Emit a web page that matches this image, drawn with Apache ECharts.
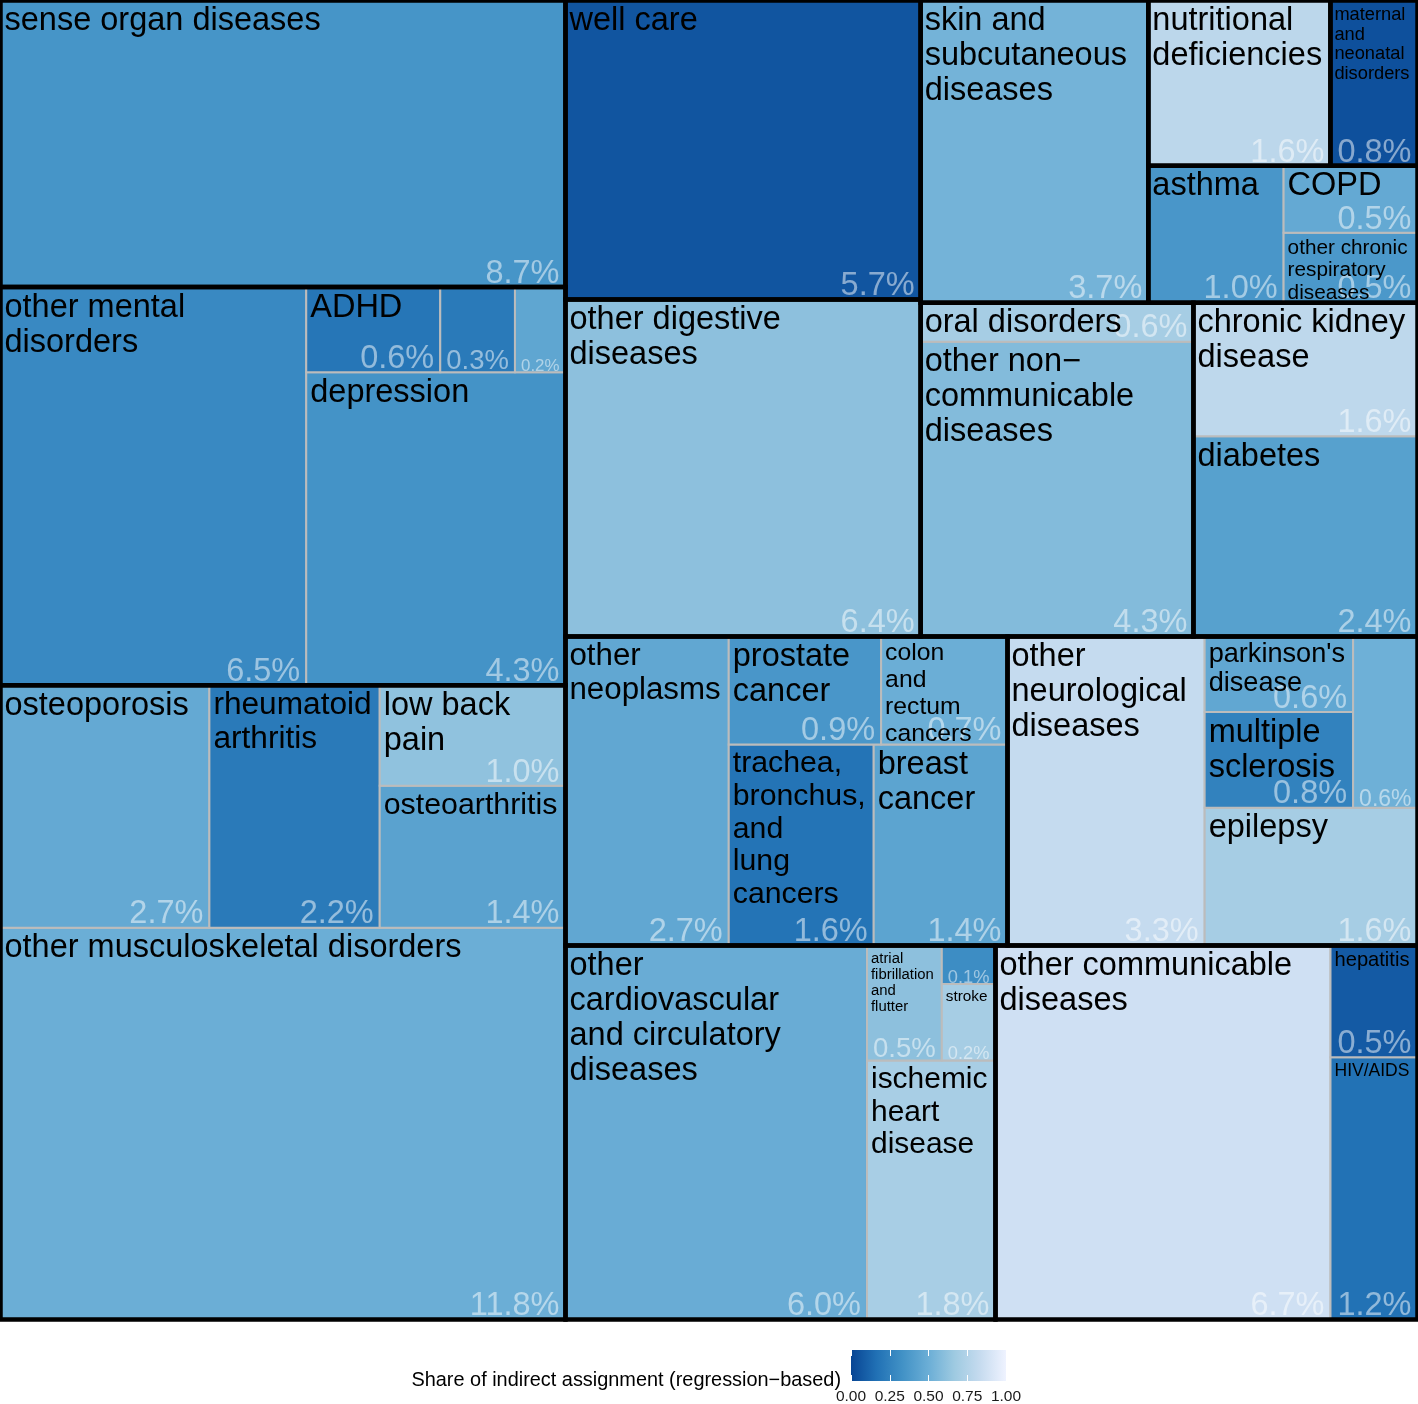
<!DOCTYPE html>
<html><head><meta charset="utf-8">
<script src="https://cdn.jsdelivr.net/npm/echarts@6/dist/echarts.min.js"></script>
<style>html,body{margin:0;padding:0;background:#fff}#c{width:1418px;height:1404px}</style>
</head><body><div id="c"></div>
<script>
// ---------------- data ----------------
const causeNames = [
  'sense organ diseases',
  'other mental disorders', 'depression', 'ADHD', '', '',
  'other musculoskeletal disorders', 'osteoporosis', 'rheumatoid arthritis', 'osteoarthritis', 'low back pain',
  'well care',
  'other digestive diseases',
  'skin and subcutaneous diseases',
  'nutritional deficiencies',
  'maternal and neonatal disorders',
  'asthma', 'other chronic respiratory diseases', 'COPD',
  'other non\u2212communicable diseases', 'oral disorders',
  'diabetes', 'chronic kidney disease',
  'other neoplasms', 'trachea, bronchus, and lung cancers', 'breast cancer', 'prostate cancer', 'colon and rectum cancers',
  'other neurological diseases', 'epilepsy', 'multiple sclerosis', "parkinson's disease", '',
  'other cardiovascular and circulatory diseases', 'ischemic heart disease', 'atrial fibrillation and flutter', 'stroke', '',
  'other communicable diseases', 'HIV/AIDS', 'hepatitis'
];
const causeGroups = [
  'sense',
  'mental', 'mental', 'mental', 'mental', 'mental',
  'musculoskeletal', 'musculoskeletal', 'musculoskeletal', 'musculoskeletal', 'musculoskeletal',
  'well care',
  'digestive',
  'skin',
  'nutritional',
  'maternal',
  'respiratory', 'respiratory', 'respiratory',
  'other ncd', 'other ncd',
  'diabetes/kidney', 'diabetes/kidney',
  'neoplasms', 'neoplasms', 'neoplasms', 'neoplasms', 'neoplasms',
  'neurological', 'neurological', 'neurological', 'neurological', 'neurological',
  'cardiovascular', 'cardiovascular', 'cardiovascular', 'cardiovascular', 'cardiovascular',
  'communicable', 'communicable', 'communicable'
];
// share of total (%)
const causeShares = [
  8.66,
  6.51, 4.34, 0.61, 0.34, 0.23,
  11.84, 2.71, 2.21, 1.41, 1.00,
  5.68,
  6.40,
  3.68,
  1.61,
  0.77,
  0.99, 0.50, 0.48,
  4.30, 0.57,
  2.40, 1.60,
  2.70, 1.56, 1.44, 0.88, 0.73,
  3.26, 1.57, 0.76, 0.60, 0.59,
  6.03, 1.78, 0.46, 0.22, 0.11,
  6.70, 1.22, 0.52
];
// share of indirect assignment (regression-based), 0..1
const indirectShare = [
  0.35,
  0.29, 0.34, 0.19, 0.21, 0.45,
  0.50, 0.47, 0.21, 0.43, 0.62,
  0.06,
  0.61,
  0.53,
  0.79,
  0.04,
  0.36, 0.37, 0.47,
  0.58, 0.70,
  0.42, 0.80,
  0.46, 0.18, 0.44, 0.36, 0.50,
  0.83, 0.70, 0.25, 0.46, 0.51,
  0.49, 0.71, 0.61, 0.70, 0.31,
  0.87, 0.17, 0.08
];
const legendTicks = [0, 0.25, 0.5, 0.75, 1];
const legendTitle = 'Share of indirect assignment (regression\u2212based)';

// ---------------- style ----------------
const BLUES = ['#084594', '#2171B5', '#4292C6', '#6BAED6', '#9ECAE1', '#C6DBEF', '#EFF3FF'];
const FONT = '"Liberation Sans", Arial, Helvetica, sans-serif';
const BASE = 32.5, LH = 1.08, ASC = 0.72, PADX = 6, PADY = 5;

// ---------------- squarified layout (unit square, origin bottom-left) ----------------
function worst(vals, side, scale) {
  let s = 0; vals.forEach(v => s += v * scale);
  const s2 = side * side; let w = 0;
  vals.forEach(v => { const a = v * scale; w = Math.max(w, s2 * a / (s * s), (s * s) / (s2 * a)); });
  return w;
}
function squarify(items, rect) {
  const sorted = items.slice().sort((a, b) => b.value - a.value);
  let total = 0; sorted.forEach(d => total += d.value);
  const scale = rect.w * rect.h / total;
  let x = rect.x, y = rect.y, w = rect.w, h = rect.h, i = 0; const out = [];
  while (i < sorted.length) {
    const vertical = w >= h;
    const side = vertical ? h : w;
    let row = [sorted[i]], best = worst([sorted[i].value], side, scale), j = i + 1;
    while (j < sorted.length) {
      const cand = row.concat([sorted[j]]);
      const r = worst(cand.map(d => d.value), side, scale);
      if (r <= best) { row = cand; best = r; j++; } else break;
    }
    let area = 0; row.forEach(d => area += d.value * scale);
    const thick = area / side;
    let pos = vertical ? y : x;
    row.forEach(d => {
      const len = d.value * scale / thick;
      if (vertical) out.push({ d, x0: x, x1: x + thick, y0: pos, y1: pos + len });
      else out.push({ d, x0: pos, x1: pos + len, y0: y, y1: y + thick });
      pos += len;
    });
    if (vertical) { x += thick; w -= thick; } else { y += thick; h -= thick; }
    i = j;
  }
  return out;
}

const groupOrder = [];
causeGroups.forEach(g => { if (groupOrder.indexOf(g) < 0) groupOrder.push(g); });
const groupItems = groupOrder.map(g => {
  let v = 0; causeGroups.forEach((cg, k) => { if (cg === g) v += causeShares[k]; });
  return { name: g, value: v };
});
const groupRects = squarify(groupItems, { x: 0, y: 0, w: 1, h: 1 });
const cellData = [], groupData = [];
groupRects.forEach(gr => {
  groupData.push([gr.x0, gr.y0, gr.x1, gr.y1]);
  const leaves = [];
  causeGroups.forEach((cg, k) => { if (cg === gr.d.name) leaves.push({ idx: k, value: causeShares[k] }); });
  squarify(leaves, { x: gr.x0, y: gr.y0, w: gr.x1 - gr.x0, h: gr.y1 - gr.y0 }).forEach(c => {
    cellData.push([c.x0, c.y0, c.x1, c.y1, indirectShare[c.d.idx], c.d.idx]);
  });
});

// ---------------- text fitting ----------------
const ctx = document.createElement('canvas').getContext('2d');
function tw(s, fs) { ctx.font = fs + 'px ' + FONT; return ctx.measureText(s).width; }
function tokenize(text) {
  const toks = [];
  text.split(' ').forEach((word, wi) => {
    word.split(/(?<=[\u2212-])/).forEach((p, pi) => toks.push({ s: p, sp: wi > 0 && pi === 0 }));
  });
  return toks;
}
function wrapDP(text, W) {
  const t = tokenize(text), n = t.length;
  const f = new Array(n + 1).fill(Infinity), nx = new Array(n + 1); f[n] = 0;
  for (let j = n - 1; j >= 0; j--) {
    let len = 0;
    for (let k = j; k < n; k++) {
      len += t[k].s.length + (k > j && t[k].sp ? 1 : 0);
      if (len > W && k > j) break;
      const cost = (k === n - 1 || len > W) ? 0 : (W - len) * (W - len);
      if (cost + f[k + 1] < f[j]) { f[j] = cost + f[k + 1]; nx[j] = k + 1; }
    }
  }
  const lines = []; let j = 0;
  while (j < n) {
    let s = '';
    for (let k = j; k < nx[j]; k++) s += (k > j && t[k].sp ? ' ' : '') + t[k].s;
    lines.push(s); j = nx[j];
  }
  return lines;
}
function dims(lines, fs) {
  let w = 0; lines.forEach(l => w = Math.max(w, tw(l, fs)));
  return { w, h: (lines.length - 1) * LH * fs + ASC * fs };
}
function fitLabel(text, bw, bh) {
  const aw = bw - 2 * PADX, ah = bh - 2 * PADY;
  let fs = BASE, lines = [text], d = dims(lines, fs);
  if (d.w > aw || d.h > ah) {
    for (let w = text.length - 1; w >= 1; w--) {
      lines = wrapDP(text, w); d = dims(lines, fs);
      if (d.w <= aw && d.h <= ah) break;
      if (d.w / d.h < aw / ah) break;
    }
    if (d.w > aw || d.h > ah) fs = fs * Math.min(aw / d.w, ah / d.h);
  }
  return { lines, fs };
}
function fitSingle(text, bw, bh) {
  const aw = bw - 2 * PADX, ah = bh - 2 * PADY;
  return BASE * Math.min(1, aw / tw(text, BASE), ah / (ASC * BASE));
}

// ---------------- render ----------------
function box(api) {
  const a = api.coord([api.value(0), api.value(3)]);
  const b = api.coord([api.value(2), api.value(1)]);
  return { left: a[0], top: a[1], right: b[0], bottom: b[1] };
}
const chart = echarts.init(document.getElementById('c'), null, { renderer: 'canvas' });
chart.setOption({
  animation: false,
  backgroundColor: '#ffffff',
  title: {
    text: legendTitle, right: 577, top: 1371, padding: 0,
    textStyle: { fontSize: 19.9, fontWeight: 'normal', color: '#000', fontFamily: FONT, lineHeight: 20 }
  },
  grid: [
    { left: 0.5, top: 0.5, width: 1417, height: 1319, containLabel: false, outerBoundsMode: 'none' },
    { left: 851, top: 1350, width: 155, height: 31, containLabel: false, outerBoundsMode: 'none' }
  ],
  xAxis: [
    { gridIndex: 0, type: 'value', min: 0, max: 1, show: false },
    { gridIndex: 1, type: 'value', min: 0, max: 1, interval: 0.25, position: 'bottom', z: 10,
      axisLine: { show: false }, splitLine: { show: false },
      axisTick: { inside: true, length: 6, lineStyle: { color: '#fff', width: 1 } },
      axisLabel: { formatter: v => v.toFixed(2), fontSize: 15.5, color: '#1a1a1a', margin: 8, fontFamily: FONT } },
    { gridIndex: 1, type: 'value', min: 0, max: 1, interval: 0.25, position: 'top', z: 10,
      axisLine: { show: false }, splitLine: { show: false },
      axisTick: { inside: true, length: 6, lineStyle: { color: '#fff', width: 1 } },
      axisLabel: { show: false } }
  ],
  yAxis: [
    { gridIndex: 0, type: 'value', min: 0, max: 1, show: false },
    { gridIndex: 1, type: 'value', min: 0, max: 1, show: false }
  ],
  visualMap: {
    show: false, type: 'continuous', min: 0, max: 1, dimension: 4, seriesIndex: 0,
    inRange: { color: BLUES }
  },
  series: [
    {
      type: 'custom', name: 'cells', xAxisIndex: 0, yAxisIndex: 0, z: 2,
      data: cellData,
      encode: { x: [0, 2], y: [1, 3] },
      renderItem: (params, api) => {
        const b = box(api);
        return { type: 'rect', shape: { x: b.left, y: b.top, width: b.right - b.left, height: b.bottom - b.top },
          style: { fill: api.visual('color'), stroke: '#bcbcbc', lineWidth: 2 } };
      }
    },
    {
      type: 'custom', name: 'groups', xAxisIndex: 0, yAxisIndex: 0, z: 3, silent: true,
      data: groupData,
      encode: { x: [0, 2], y: [1, 3] },
      renderItem: (params, api) => {
        const b = box(api);
        return { type: 'rect', shape: { x: b.left, y: b.top, width: b.right - b.left, height: b.bottom - b.top },
          style: { fill: 'none', stroke: '#000', lineWidth: 4.5 } };
      }
    },
    {
      type: 'custom', name: 'labels', xAxisIndex: 0, yAxisIndex: 0, z: 4, silent: true,
      data: cellData.map(c => [c[0], c[1], c[2], c[3], c[5]]),
      encode: { x: [0, 2], y: [1, 3] },
      renderItem: (params, api) => {
        const b = box(api);
        const bw = b.right - b.left, bh = b.bottom - b.top;
        const idx = api.value(4);
        const children = [];
        const pct = causeShares[idx].toFixed(1) + '%';
        const pf = fitSingle(pct, bw, bh);
        children.push({ type: 'text', x: b.right - PADX, y: b.bottom + 3,
          style: { text: pct, fontSize: pf, fontFamily: FONT, lineHeight: pf, fill: 'rgba(255,255,255,0.5)',
            align: 'right', verticalAlign: 'bottom' } });
        const name = causeNames[idx];
        if (name) {
          const f = fitLabel(name, bw, bh);
          children.push({ type: 'text', x: b.left + 4, y: b.top + 6.5 - 0.107 * f.fs,
            style: { text: f.lines.join('\n'), fontSize: f.fs, fontFamily: FONT, lineHeight: f.fs * LH,
              fill: '#000', align: 'left', verticalAlign: 'top' } });
        }
        return { type: 'group', children };
      }
    },
    {
      type: 'custom', name: 'colorbar', xAxisIndex: 1, yAxisIndex: 1, z: 2, silent: true,
      data: [[legendTicks[0], legendTicks[legendTicks.length - 1]]],
      renderItem: (params, api) => {
        const a = api.coord([api.value(0), 1]);
        const b = api.coord([api.value(1), 0]);
        const stops = BLUES.map((c, k) => ({ offset: k / (BLUES.length - 1), color: c }));
        return { type: 'rect', shape: { x: a[0], y: a[1], width: b[0] - a[0], height: b[1] - a[1] },
          style: { fill: new echarts.graphic.LinearGradient(0, 0, 1, 0, stops) } };
      }
    }
  ]
});
</script>
</body></html>
